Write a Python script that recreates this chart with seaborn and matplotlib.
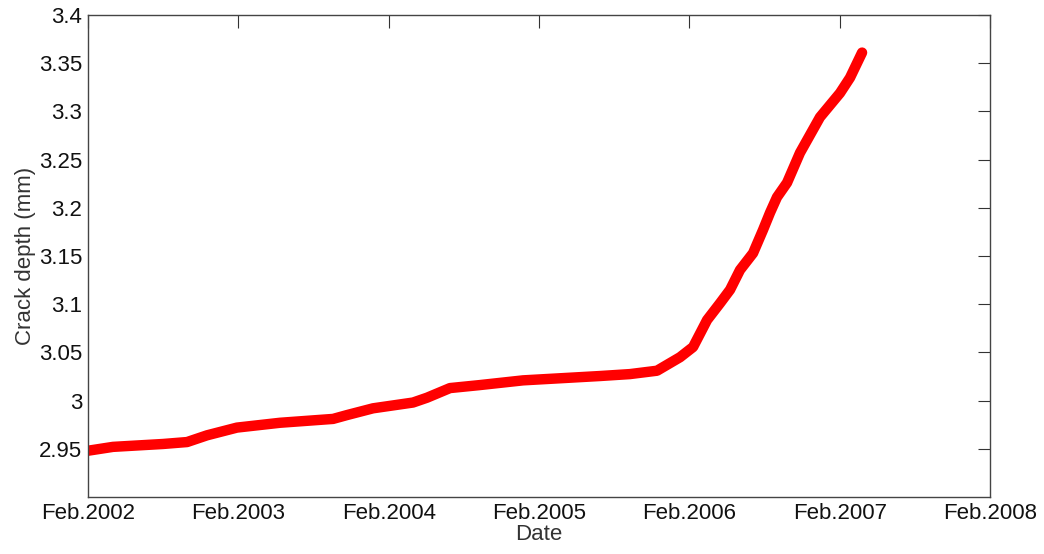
import matplotlib
matplotlib.use("Agg")
import matplotlib.pyplot as plt
import seaborn as sns
import pandas as pd

# Crack depth monitoring record; time in years since February 2002
years_since_start = [0.0, 0.166, 0.499, 0.659, 0.792, 0.991, 1.277, 1.630, 1.723,
                     1.896, 2.162, 2.255, 2.408, 2.600, 2.894, 3.406, 3.605, 3.785,
                     3.938, 4.025, 4.118, 4.204, 4.271, 4.337, 4.424, 4.490, 4.537,
                     4.583, 4.650, 4.736, 4.869, 5.002, 5.069, 5.149]
depth_mm = [2.948, 2.952, 2.955, 2.957, 2.964, 2.972, 2.977, 2.981, 2.985,
            2.992, 2.998, 3.003, 3.013, 3.016, 3.021, 3.0255, 3.0275, 3.031,
            3.045, 3.0556, 3.0836, 3.101, 3.115, 3.1355, 3.153, 3.177, 3.195,
            3.211, 3.226, 3.257, 3.294, 3.319, 3.335, 3.361]

tick_positions = [0, 1, 2, 3, 4, 5, 6]
tick_labels = ["Feb.2002", "Feb.2003", "Feb.2004", "Feb.2005",
               "Feb.2006", "Feb.2007", "Feb.2008"]
y_ticks = [2.95, 3.0, 3.05, 3.1, 3.15, 3.2, 3.25, 3.3, 3.35, 3.4]
y_tick_labels = ["2.95", "3", "3.05", "3.1", "3.15", "3.2", "3.25", "3.3", "3.35", "3.4"]

sns.set_theme(style="white")
plt.rcParams["font.family"] = ["Liberation Sans", "DejaVu Sans"]

df = pd.DataFrame({"t": years_since_start, "depth": depth_mm})

fig = plt.figure(figsize=(10.44, 5.54), dpi=100)
ax = fig.add_axes([88 / 1044, 57 / 554, 902 / 1044, 482 / 554])

sns.lineplot(data=df, x="t", y="depth", ax=ax, color="#ff0000",
             linewidth=7.5, solid_capstyle="round", solid_joinstyle="round")

ax.set_xlim(0, 6)
ax.set_ylim(2.9, 3.4)
ax.set_xticks(tick_positions)
ax.set_xticklabels(tick_labels)
ax.set_yticks(y_ticks)
ax.set_yticklabels(y_tick_labels)

ax.tick_params(direction="in", length=9, width=0.8, color="#333333",
               top=True, right=True, labelsize=16, labelcolor="#111111", pad=4)
for spine in ax.spines.values():
    spine.set_color("#444444")
    spine.set_linewidth(1.0)

ax.set_xlabel("Date", fontsize=16, color="#333333", labelpad=0)
ax.set_ylabel("Crack depth (mm)", fontsize=16, color="#333333", labelpad=2)

fig.savefig("out.png", dpi=100)
